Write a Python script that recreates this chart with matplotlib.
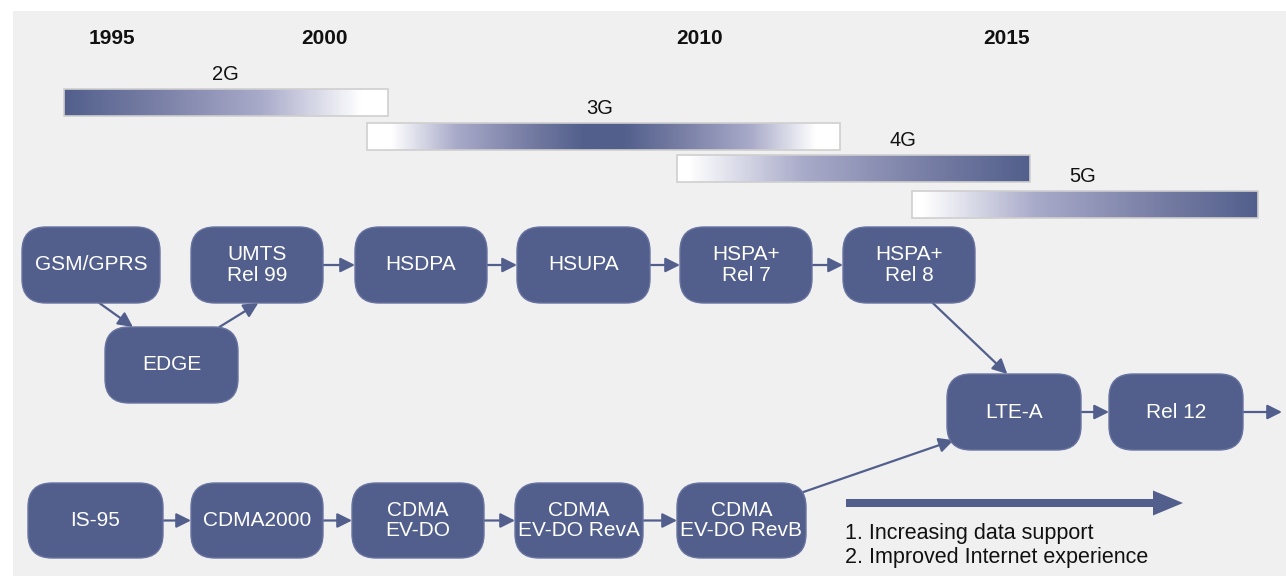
import numpy as np
import matplotlib.pyplot as plt
from matplotlib.patches import FancyBboxPatch, FancyArrowPatch, FancyArrow, Rectangle
from matplotlib.colors import LinearSegmentedColormap

plt.rcParams['font.family'] = ['Liberation Sans', 'DejaVu Sans']

# Timeline labels
years = ['1995', '2000', '2010', '2015']
year_x = [112, 325, 700, 1007]

# Generation bars: name, left, right, label position, gradient shape
generations = ['2G', '3G', '4G', '5G']
gen_left = [64, 367, 677, 912]
gen_right = [388, 840, 1030, 1258]
gen_top = [89, 123, 155, 191]
gen_label_x = [225, 600, 903, 1083]
gen_shape = ['fade_out', 'peak', 'fade_in', 'fade_in']

# Technology nodes
nodes = ['GSM/GPRS', 'UMTS\nRel 99', 'HSDPA', 'HSUPA', 'HSPA+\nRel 7', 'HSPA+\nRel 8',
         'EDGE', 'LTE-A', 'Rel 12',
         'IS-95', 'CDMA2000', 'CDMA\nEV-DO', 'CDMA\nEV-DO RevA', 'CDMA\nEV-DO RevB']
node_x0 = [22, 191, 355, 517, 680, 843, 105, 947, 1109, 28, 191, 352, 515, 677]
node_x1 = [160, 323, 487, 650, 812, 975, 238, 1081, 1243, 163, 323, 484, 643, 806]
node_y0 = [227, 227, 227, 227, 227, 227, 327, 374, 374, 483, 483, 483, 483, 483]
node_y1 = [303, 303, 303, 303, 303, 303, 403, 450, 450, 558, 558, 558, 558, 558]

# Links: source, target, anchor fractions (sx, sy) on source and (tx, ty) on target
links = [
    ('GSM/GPRS', 'EDGE', (0.56, 1.0), (0.21, 0.0)),
    ('EDGE', 'UMTS\nRel 99', (0.86, 0.0), (0.51, 1.0)),
    ('UMTS\nRel 99', 'HSDPA', (1.0, 0.5), (0.0, 0.5)),
    ('HSDPA', 'HSUPA', (1.0, 0.5), (0.0, 0.5)),
    ('HSUPA', 'HSPA+\nRel 7', (1.0, 0.5), (0.0, 0.5)),
    ('HSPA+\nRel 7', 'HSPA+\nRel 8', (1.0, 0.5), (0.0, 0.5)),
    ('HSPA+\nRel 8', 'LTE-A', (0.68, 1.0), (0.45, 0.0)),
    ('IS-95', 'CDMA2000', (1.0, 0.5), (0.0, 0.5)),
    ('CDMA2000', 'CDMA\nEV-DO', (1.0, 0.5), (0.0, 0.5)),
    ('CDMA\nEV-DO', 'CDMA\nEV-DO RevA', (1.0, 0.5), (0.0, 0.5)),
    ('CDMA\nEV-DO RevA', 'CDMA\nEV-DO RevB', (1.0, 0.5), (0.0, 0.5)),
    ('CDMA\nEV-DO RevB', 'LTE-A', (0.98, 0.12), (0.05, 0.87)),
    ('LTE-A', 'Rel 12', (1.0, 0.5), (0.0, 0.5)),
]

notes = ['1. Increasing data support', '2. Improved Internet experience']

navy = '#525f8c'
cmap = LinearSegmentedColormap.from_list('gen', ['#ffffff', '#a9abca', '#7c82a8', navy])

fig = plt.figure(figsize=(12.86, 5.76), dpi=100)
ax = fig.add_axes([0, 0, 1, 1])
ax.set_xlim(0, 1286)
ax.set_ylim(576, 0)
ax.axis('off')

# gray panel
ax.add_patch(Rectangle((13, 11), 1286 - 13, 576 - 11, facecolor='#f0f0f0', edgecolor='none', zorder=0))

for y, x in zip(years, year_x):
    ax.text(x, 38, y, ha='center', va='center', fontsize=15, fontweight='bold', color='#111111')

# gradient bars
bar_h = 27
for g, x0, x1, y0, lx, shape in zip(generations, gen_left, gen_right, gen_top, gen_label_x, gen_shape):
    t = np.linspace(0, 1, 300)
    if shape == 'fade_out':
        v = np.clip(1 - t / 0.92, 0, 1)
    elif shape == 'fade_in':
        v = np.clip((t - 0.03) / 0.97, 0, 1)
    else:
        v = np.clip(1.1 - np.abs(t - 0.5) / 0.41, 0, 1)
    ax.imshow(v[np.newaxis, :], cmap=cmap, vmin=0, vmax=1, aspect='auto',
              extent=(x0, x1, y0 + bar_h, y0), zorder=2, interpolation='bilinear')
    ax.add_patch(Rectangle((x0, y0), x1 - x0, bar_h, facecolor='none',
                           edgecolor='#cfcfcf', lw=1.2, zorder=3))
    ax.text(lx, y0 - 14, g, ha='center', va='center', fontsize=14.5, color='#111111')

ax.set_xlim(0, 1286)
ax.set_ylim(576, 0)

box = {}
for name, x0, x1, y0, y1 in zip(nodes, node_x0, node_x1, node_y0, node_y1):
    box[name] = (x0, y0, x1, y1)
    ax.add_patch(FancyBboxPatch((x0, y0), x1 - x0, y1 - y0,
                                boxstyle='round,pad=0,rounding_size=24',
                                facecolor=navy, edgecolor='#6873a0', lw=1, zorder=4))
    ax.text((x0 + x1) / 2, (y0 + y1) / 2, name, ha='center', va='center',
            fontsize=15, color='white', linespacing=1.08, zorder=5)


def anchor(name, fx, fy):
    x0, y0, x1, y1 = box[name]
    return (x0 + fx * (x1 - x0), y0 + fy * (y1 - y0))


for src, dst, (sx, sy), (tx, ty) in links:
    a = FancyArrowPatch(anchor(src, sx, sy), anchor(dst, tx, ty), arrowstyle='-|>',
                        mutation_scale=22, color=navy, lw=1.6, shrinkA=0, shrinkB=0, zorder=3)
    ax.add_patch(a)

# outgoing arrow from Rel 12
ax.add_patch(FancyArrowPatch(anchor('Rel 12', 1.0, 0.5), (1282, anchor('Rel 12', 1.0, 0.5)[1]),
                             arrowstyle='-|>', mutation_scale=22, color=navy, lw=1.6,
                             shrinkA=0, shrinkB=0, zorder=3))

# big trend arrow
ax.add_patch(FancyArrow(846, 503, 337 - 30, 0, width=8, head_width=25, head_length=30,
                        length_includes_head=False, color=navy, lw=0, zorder=3))

for i, n in enumerate(notes):
    ax.text(845, 533 + i * 24, n, ha='left', va='center', fontsize=15.5, color='#111111')

fig.savefig('out.png', dpi=100)
